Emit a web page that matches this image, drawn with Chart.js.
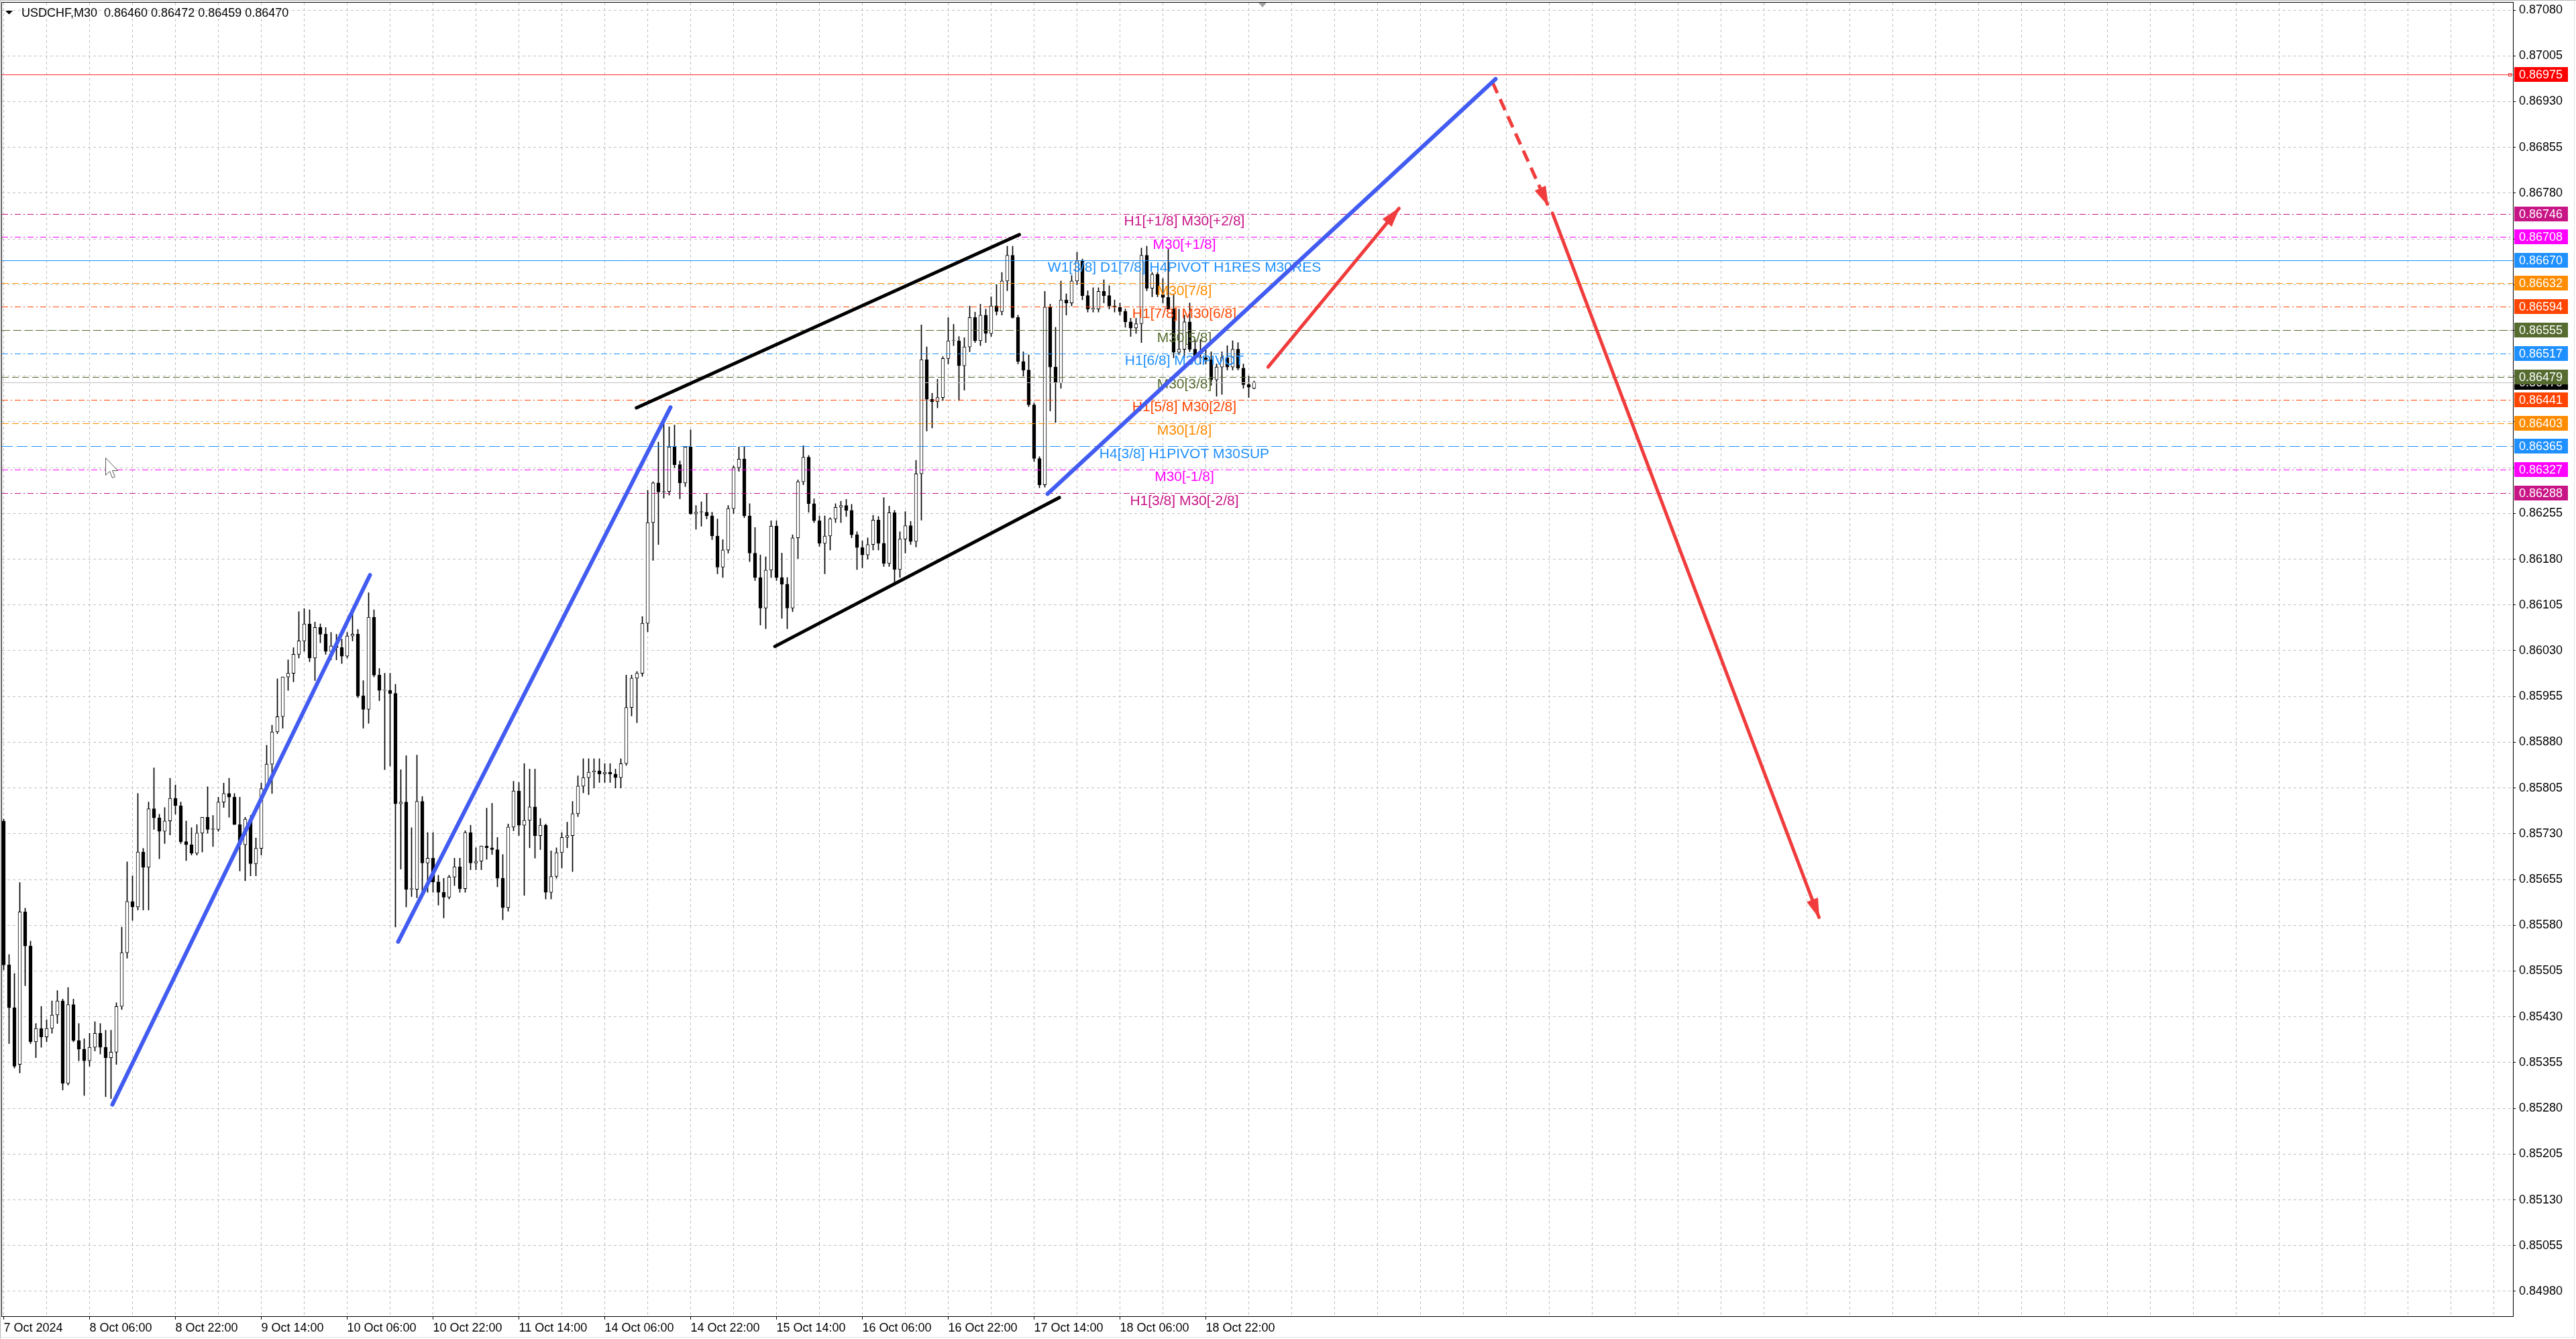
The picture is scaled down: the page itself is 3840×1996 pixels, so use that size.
<!DOCTYPE html>
<html>
<head>
<meta charset="utf-8">
<title>USDCHF,M30</title>
<script src="https://cdn.jsdelivr.net/npm/chart.js@4.4.1/dist/chart.umd.min.js"></script>
<style>
html, body { margin: 0; padding: 0; background: #fff; overflow: hidden; }
canvas { display: block; }
</style>
</head>
<body>
<canvas id="chart" width="3840" height="1996"></canvas>
<script>
// quotes, one candle per hour, in points above 0.85000
var openPts = [
751,515,445,352,602,546,389,411,397,411,
433,456,321,450,391,377,358,380,403,380,
363,372,447,535,619,610,700,675,771,756,
734,751,788,776,717,712,698,731,757,737,
737,782,796,790,745,712,754,681,706,804,
844,897,922,987,993,1024,1046,1074,1018,1068,
1057,1029,1038,1035,1021,1054,1057,956,934,1085,
990,965,965,960,779,782,639,639,783,682,
690,651,634,626,659,676,640,732,682,685,
710,707,704,657,609,741,800,744,752,774,
727,744,634,660,699,724,727,763,808,822,
831,833,828,831,828,822,845,937,985,993,
1075,1240,1305,1290,1291,1364,1335,1305,1364,1254,
1257,1257,1251,1218,1167,1195,1263,1330,1344,1251,
1190,1150,1100,1162,1234,1150,1139,1100,1215,1307,
1347,1271,1243,1206,1218,1246,1265,1268,1260,1220,
1199,1187,1204,1244,1206,1173,1256,1163,1213,1235,
1209,1320,1507,1442,1438,1445,1509,1538,1538,1497,
1528,1576,1538,1580,1550,1595,1586,1636,1678,1576,
1504,1490,1433,1345,1302,1593,1495,1469,1605,1600,
1636,1669,1612,1590,1590,1619,1612,1595,1593,1586,
1569,1559,1566,1678,1624,1647,1614,1609,1590,1519,
1524,1569,1524,1510,1510,1507,1474,1495,1510,1495,
1524,1493,1466,1460];
var highPts = [
754,532,501,650,608,554,419,447,425,456,
473,459,478,459,419,394,403,422,419,408,
408,453,577,684,661,796,706,782,838,762,
773,821,810,782,751,740,745,757,807,760,
790,813,821,796,790,757,760,723,813,875,
908,984,987,1015,1035,1094,1099,1097,1077,1074,
1068,1060,1057,1049,1060,1099,1065,981,1125,1097,
1001,993,993,975,835,858,740,859,791,732,
732,662,657,662,690,690,735,744,707,710,
772,780,724,696,746,816,814,845,836,836,
755,746,702,707,732,749,783,825,853,853,
853,853,845,845,836,853,990,990,996,1086,
1293,1307,1372,1411,1397,1400,1341,1364,1392,1268,
1274,1288,1257,1246,1212,1268,1333,1364,1364,1271,
1232,1187,1184,1243,1243,1190,1150,1220,1310,1366,
1350,1279,1251,1251,1248,1271,1275,1278,1270,1225,
1210,1215,1252,1250,1281,1267,1260,1225,1258,1242,
1342,1564,1528,1452,1475,1512,1576,1565,1545,1543,
1595,1585,1598,1590,1610,1630,1650,1693,1693,1580,
1520,1515,1436,1348,1619,1598,1560,1636,1615,1645,
1683,1672,1620,1625,1625,1638,1628,1605,1600,1590,
1575,1575,1690,1693,1650,1650,1640,1688,1615,1590,
1580,1600,1540,1540,1525,1520,1500,1520,1530,1538,
1535,1500,1480,1472];
var lowPts = [
507,386,346,338,481,386,363,380,389,403,
419,310,318,389,358,301,349,374,369,299,
296,352,442,526,588,605,605,605,737,689,
714,728,762,714,686,695,695,700,731,709,
734,773,757,745,669,653,661,661,695,802,
796,894,903,965,979,1018,1029,1012,981,1043,
1024,1015,1015,1009,1018,1046,953,903,911,987,
948,835,841,577,672,610,627,625,634,634,
634,613,592,623,645,634,634,671,671,671,
688,696,643,589,603,735,727,629,707,690,
704,623,623,657,674,707,668,758,797,794,
805,814,814,814,805,805,842,923,912,988,
1061,1178,1204,1280,1285,1330,1279,1299,1254,1229,
1234,1246,1212,1156,1150,1190,1255,1324,1248,1176,
1145,1072,1066,1150,1145,1083,1066,1094,1181,1302,
1257,1240,1201,1156,1195,1240,1240,1250,1215,1163,
1166,1180,1195,1195,1168,1168,1142,1150,1190,1204,
1200,1244,1390,1395,1428,1440,1500,1530,1440,1457,
1520,1535,1530,1535,1545,1580,1580,1620,1575,1500,
1480,1430,1340,1297,1298,1423,1404,1460,1580,1595,
1630,1605,1585,1585,1585,1600,1590,1585,1580,1560,
1545,1550,1535,1620,1610,1610,1600,1590,1510,1515,
1510,1520,1505,1500,1500,1465,1447,1450,1490,1490,
1490,1460,1445,1459];
var closePts = [
515,445,349,602,546,389,411,397,411,433,
456,321,450,391,377,358,380,403,380,363,
372,447,535,619,610,700,675,771,756,734,
751,788,776,717,712,698,731,757,737,737,
782,796,790,745,712,754,681,706,804,844,
897,922,987,993,1024,1046,1074,1018,1068,1057,
1029,1038,1035,1021,1054,1057,956,934,1085,990,
965,965,960,779,782,639,639,783,682,690,
651,634,626,659,676,640,732,682,685,710,
707,704,657,609,741,800,744,752,774,727,
744,634,660,699,724,727,763,808,822,831,
833,828,831,828,822,845,937,985,993,1075,
1240,1305,1290,1291,1364,1335,1305,1364,1254,1257,
1257,1251,1218,1167,1195,1263,1330,1344,1251,1190,
1150,1100,1162,1234,1150,1139,1100,1215,1307,1347,
1271,1243,1206,1218,1246,1265,1268,1260,1220,1199,
1187,1204,1244,1206,1173,1256,1163,1213,1235,1209,
1320,1507,1442,1438,1445,1509,1538,1538,1497,1528,
1576,1538,1580,1550,1595,1586,1636,1678,1576,1504,
1490,1433,1345,1302,1593,1495,1469,1605,1600,1636,
1669,1612,1590,1590,1619,1612,1595,1593,1586,1569,
1559,1566,1678,1624,1647,1614,1609,1590,1519,1524,
1569,1524,1510,1510,1507,1474,1495,1510,1495,1524,
1493,1466,1462,1470];

var headerText = "USDCHF,M30  0.86460 0.86472 0.86459 0.86470";

// time axis: hour index of each label
var xLabelHours = [0, 16, 32, 48, 64, 80, 96, 112, 128, 144, 160, 176, 192, 208, 224];
var xLabels = ["7 Oct 2024", "8 Oct 06:00", "8 Oct 22:00", "9 Oct 14:00", "10 Oct 06:00",
  "10 Oct 22:00", "11 Oct 14:00", "14 Oct 06:00", "14 Oct 22:00", "15 Oct 14:00",
  "16 Oct 06:00", "16 Oct 22:00", "17 Oct 14:00", "18 Oct 06:00", "18 Oct 22:00"];

var yTicks = [0.84980, 0.85055, 0.85130, 0.85205, 0.85280, 0.85355, 0.85430, 0.85505,
  0.85580, 0.85655, 0.85730, 0.85805, 0.85880, 0.85955, 0.86030, 0.86105, 0.86180,
  0.86255, 0.86330, 0.86405, 0.86480, 0.86555, 0.86630, 0.86705, 0.86780, 0.86855,
  0.86930, 0.87005, 0.87080];

// murrey levels
var levelPrices = [0.86746, 0.86708, 0.86670, 0.86632, 0.86594, 0.86555, 0.86517,
  0.86479, 0.86441, 0.86403, 0.86365, 0.86327, 0.86288];
var levelNames = ["H1[+1/8] M30[+2/8]", "M30[+1/8]", "W1[3/8] D1[7/8] H4PIVOT H1RES M30RES",
  "M30[7/8]", "H1[7/8] M30[6/8]", "M30[5/8]", "H1[6/8] M30PIVOT", "M30[3/8]",
  "H1[5/8] M30[2/8]", "M30[1/8]", "H4[3/8] H1PIVOT M30SUP", "M30[-1/8]", "H1[3/8] M30[-2/8]"];
var targetPrice = 0.86975;
var lastPrice = 0.86470;

// drawn objects: [hour, price] end points
var blueLines = [
  [[20.25, 0.85286], [68.25, 0.86154]],
  [[73.5, 0.85553], [124.25, 0.86429]],
  [[194.5, 0.86287], [278, 0.86967]]
];
var channelLines = [
  [[117.9, 0.86428], [189.25, 0.86712]],
  [[143.7, 0.86037], [196.7, 0.86281]]
];
var redArrows = [
  [[235.6, 0.86495], [260, 0.86755]],
  [[277.4, 0.86962], [287.75, 0.86760]],
  [[288.6, 0.86747], [338.25, 0.85593]]
];
// mouse pointer left on the screenshot, [hour, price]
var cursorAt = [18.9, 0.86347];

// styles
var FONT = '"Liberation Sans", Arial, sans-serif';
var levelColors = ['#c71585', '#ff00ff', '#1e90ff', '#ff8c00', '#ff4500', '#556b2f', '#1e90ff',
  '#556b2f', '#ff4500', '#ff8c00', '#1e90ff', '#ff00ff', '#c71585'];
var DASHDOT = [9, 4, 2, 4];
var levelDash = [DASHDOT, DASHDOT, [], [10, 5], DASHDOT, [12, 5], DASHDOT,
  [10, 5], DASHDOT, [10, 5], [16, 6], DASHDOT, DASHDOT];
var BLUE = 'rgb(66,92,242)';
var RED = 'rgb(240,60,60)';
var labelHour = 220;

function price(p) { return +(0.85 + p / 100000).toFixed(5); }

var wickData = [], bodyData = [];
for (var i = 0; i < closePts.length; i++) {
  wickData.push({ x: i, y: [price(lowPts[i]), price(highPts[i])] });
  bodyData.push({ x: i, y: [price(openPts[i]), price(closePts[i])] });
}

function seg(points) {
  return points.map(function (p) { return { x: p[0], y: p[1] }; });
}

var datasets = [
  { type: 'bar', data: wickData, backgroundColor: '#000', borderWidth: 0,
    barThickness: 1, grouped: false, order: 5 },
  { type: 'bar', data: bodyData, borderColor: '#000', borderWidth: 1, borderSkipped: false,
    barThickness: 5, grouped: false, minBarLength: 1, order: 4,
    backgroundColor: function (c) {
      return closePts[c.dataIndex] >= openPts[c.dataIndex] ? '#ffffff' : '#000000';
    } }
];
blueLines.forEach(function (s) {
  datasets.push({ type: 'line', data: seg(s), borderColor: BLUE, borderWidth: 6,
    pointRadius: 0, borderCapStyle: 'round', order: 1 });
});
channelLines.forEach(function (s) {
  datasets.push({ type: 'line', data: seg(s), borderColor: '#000', borderWidth: 5,
    pointRadius: 0, borderCapStyle: 'round', order: 1 });
});
redArrows.forEach(function (s, k) {
  datasets.push({ type: 'line', data: seg(s), borderColor: RED, borderWidth: 5,
    pointRadius: 0, borderCapStyle: k === 1 ? 'butt' : 'round',
    borderDash: k === 1 ? [18, 10] : [], order: 1 });
});

function drawLevels(chart) {
  var ctx = chart.ctx, a = chart.chartArea, ys = chart.scales.y, xs = chart.scales.x;
  ctx.save();
  ctx.beginPath();
  ctx.rect(a.left, a.top, a.right - a.left, a.bottom - a.top);
  ctx.clip();
  ctx.lineWidth = 1;

  var y = Math.round(ys.getPixelForValue(lastPrice)) + 0.5;
  ctx.strokeStyle = '#c0c0c0';
  ctx.setLineDash([]);
  ctx.beginPath(); ctx.moveTo(a.left, y); ctx.lineTo(a.right, y); ctx.stroke();

  levelPrices.forEach(function (v, i) {
    var ly = Math.round(ys.getPixelForValue(v)) + 0.5;
    ctx.strokeStyle = levelColors[i];
    ctx.setLineDash(levelDash[i]);
    ctx.beginPath(); ctx.moveTo(a.left, ly); ctx.lineTo(a.right, ly); ctx.stroke();
  });

  var ty = Math.round(ys.getPixelForValue(targetPrice)) + 0.5;
  ctx.strokeStyle = '#ff3030';
  ctx.setLineDash([]);
  ctx.beginPath(); ctx.moveTo(a.left, ty); ctx.lineTo(a.right, ty); ctx.stroke();
  ctx.strokeRect(a.right - 6.5, ty - 2, 4, 4);

  ctx.font = '21px ' + FONT;
  ctx.textAlign = 'center';
  ctx.textBaseline = 'top';
  var tx = xs.getPixelForValue(labelHour);
  levelPrices.forEach(function (v, i) {
    ctx.fillStyle = levelColors[i];
    ctx.fillText(levelNames[i], tx, ys.getPixelForValue(v) + 1);
  });
  ctx.restore();
}

function drawArrowHeads(chart) {
  var ctx = chart.ctx, xs = chart.scales.x, ys = chart.scales.y;
  ctx.save();
  ctx.fillStyle = RED;
  redArrows.forEach(function (s) {
    var p0 = s[s.length - 2], p1 = s[s.length - 1];
    var x0 = xs.getPixelForValue(p0[0]), y0 = ys.getPixelForValue(p0[1]);
    var x1 = xs.getPixelForValue(p1[0]), y1 = ys.getPixelForValue(p1[1]);
    var ang = Math.atan2(y1 - y0, x1 - x0);
    var len = 28, hw = 9;
    var bx = x1 - Math.cos(ang) * len, by = y1 - Math.sin(ang) * len;
    ctx.beginPath();
    ctx.moveTo(x1 + Math.cos(ang) * 2, y1 + Math.sin(ang) * 2);
    ctx.lineTo(bx + Math.sin(ang) * hw, by - Math.cos(ang) * hw);
    ctx.lineTo(bx - Math.sin(ang) * hw, by + Math.cos(ang) * hw);
    ctx.closePath();
    ctx.fill();
  });

  // mouse pointer
  var cx = Math.round(xs.getPixelForValue(cursorAt[0])) + 0.5;
  var cy = Math.round(ys.getPixelForValue(cursorAt[1])) + 0.5;
  var shape = [[0, 0], [0, 26], [6, 20], [10, 30], [14, 28], [10, 19], [18, 19]];
  ctx.beginPath();
  shape.forEach(function (p, k) {
    if (k === 0) ctx.moveTo(cx + p[0], cy + p[1]); else ctx.lineTo(cx + p[0], cy + p[1]);
  });
  ctx.closePath();
  ctx.fillStyle = '#ffffff';
  ctx.fill();
  ctx.strokeStyle = '#555';
  ctx.lineWidth = 1;
  ctx.stroke();
  ctx.restore();
}

function drawPriceBoxes(chart) {
  var ctx = chart.ctx, a = chart.chartArea, ys = chart.scales.y;
  var boxes = [{ v: lastPrice, c: '#000000' }];
  levelPrices.forEach(function (v, i) { boxes.push({ v: v, c: levelColors[i] }); });
  boxes.push({ v: targetPrice, c: '#ff0000' });
  ctx.save();
  ctx.font = '18px ' + FONT;
  ctx.textAlign = 'left';
  ctx.textBaseline = 'middle';
  boxes.forEach(function (b) {
    var y = Math.round(ys.getPixelForValue(b.v));
    ctx.fillStyle = b.c;
    ctx.fillRect(a.right + 2, y - 11, 80, 22);
    ctx.fillStyle = '#ffffff';
    ctx.fillText(b.v.toFixed(5), a.right + 9, y + 1);
  });
  ctx.restore();
}

function drawFrame(chart) {
  var ctx = chart.ctx, a = chart.chartArea, xs = chart.scales.x;
  ctx.save();
  ctx.strokeStyle = '#000';
  ctx.lineWidth = 1;
  ctx.strokeRect(a.left - 0.5, a.top - 0.5, a.right - a.left + 1, a.bottom - a.top + 1);
  ctx.strokeStyle = '#b4b4b4';
  ctx.beginPath();
  ctx.moveTo(0.5, chart.height); ctx.lineTo(0.5, 0.5); ctx.lineTo(chart.width, 0.5);
  ctx.stroke();
  ctx.strokeStyle = '#e2e2e2';
  ctx.beginPath();
  ctx.moveTo(0, chart.height - 2.5); ctx.lineTo(chart.width - 2.5, chart.height - 2.5);
  ctx.lineTo(chart.width - 2.5, 0);
  ctx.stroke();

  // chart shift marker on the top edge
  var sx = Math.round(xs.getPixelForValue(closePts.length + 0.5));
  ctx.fillStyle = '#a0a0a0';
  ctx.beginPath();
  ctx.moveTo(sx - 6, a.top); ctx.lineTo(sx + 6, a.top); ctx.lineTo(sx, a.top + 7);
  ctx.closePath();
  ctx.fill();

  // header
  ctx.fillStyle = '#000';
  ctx.beginPath();
  ctx.moveTo(8, 16); ctx.lineTo(19, 16); ctx.lineTo(13.5, 21.5); ctx.closePath();
  ctx.fill();
  ctx.font = '18px ' + FONT;
  ctx.textAlign = 'left';
  ctx.textBaseline = 'middle';
  ctx.fillText(headerText, 32, 20);
  ctx.restore();
}

var mtPlugin = {
  id: 'mtOverlay',
  beforeDatasetsDraw: function (chart) { chart.$levelsDone = false; },
  beforeDatasetDraw: function (chart, args) {
    if (chart.$levelsDone || args.meta.type !== 'line') return;
    chart.$levelsDone = true;
    drawLevels(chart);
  },
  afterDatasetsDraw: function (chart) { drawArrowHeads(chart); },
  afterDraw: function (chart) {
    drawPriceBoxes(chart);
    drawFrame(chart);
  }
};

var gridHours = [];
for (var g = 0; g <= 464; g += 8) gridHours.push(g);

// keep the plot area where MT4 has it: no extra room for edge labels
function noEdgePadding(s) {
  s.paddingTop = 0; s.paddingBottom = 0; s.paddingLeft = 0; s.paddingRight = 0;
}

var ctxMain = document.getElementById('chart').getContext('2d');
var chart = new Chart(ctxMain, {
  type: 'bar',
  data: { datasets: datasets },
  plugins: [mtPlugin],
  options: {
    responsive: false,
    animation: false,
    devicePixelRatio: 1,
    layout: { padding: { top: 4, left: 3, right: 0, bottom: 0 } },
    plugins: { legend: { display: false }, tooltip: { enabled: false } },
    scales: {
      x: {
        type: 'linear',
        position: 'bottom',
        min: -0.3125,
        max: 467.5625,
        offset: false,
        afterBuildTicks: function (s) {
          s.ticks = gridHours.map(function (v) { return { value: v }; });
        },
        afterFit: function (s) { s.height = 34; noEdgePadding(s); },
        grid: {
          color: '#c0c0c0',
          offset: false,
          tickLength: 5,
          tickColor: function (c) {
            return c.tick && xLabelHours.indexOf(c.tick.value) >= 0 ? '#000' : 'rgba(0,0,0,0)';
          }
        },
        border: { display: false, dash: [4, 4] },
        ticks: {
          autoSkip: false,
          maxRotation: 0,
          align: 'start',
          padding: 2,
          color: '#000',
          font: { family: FONT, size: 18 },
          callback: function (v) {
            var k = xLabelHours.indexOf(v);
            return k >= 0 ? xLabels[k] : '';
          }
        }
      },
      y: {
        type: 'linear',
        position: 'right',
        min: 0.849393,
        max: 0.870921,
        afterBuildTicks: function (s) {
          s.ticks = yTicks.map(function (v) { return { value: v }; });
        },
        afterFit: function (s) { s.width = 94; noEdgePadding(s); },
        grid: { color: '#c0c0c0', tickLength: 4, tickColor: '#000' },
        border: { display: false, dash: [4, 4] },
        ticks: {
          autoSkip: false,
          padding: 5,
          color: '#000',
          font: { family: FONT, size: 18 },
          callback: function (v) { return Number(v).toFixed(5); }
        }
      }
    }
  }
});
</script>
</body>
</html>
